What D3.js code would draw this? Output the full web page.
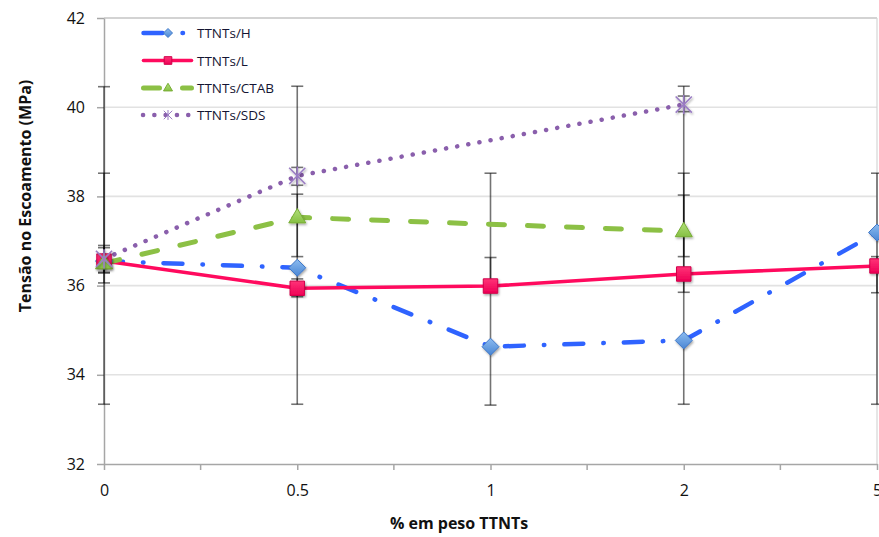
<!DOCTYPE html>
<html><head><meta charset="utf-8">
<script src="https://cdn.jsdelivr.net/npm/d3@7"></script>
<style>body{margin:0;background:#fff}svg{display:block}text{font-family:"Open Sans",sans-serif}</style>
</head><body><svg id="c" width="879" height="537"></svg>
<script>
// ---- data ----
const xCats = ["0", "0.5", "1", "2", "5"];
const yTicks = [32, 34, 36, 38, 40, 42];
const seriesNames = ["TTNTs/H", "TTNTs/L", "TTNTs/CTAB", "TTNTs/SDS"];
const H    = [36.55, 36.40, 34.63, 34.77, 37.19];
const L    = [36.55, 35.94, 35.99, 36.26, 36.44];
const CTAB = [36.50, 37.53, null, 37.22, null];
const SDS  = [36.60, 38.46, null, 40.06, null];
// error bar extents (low / high)
const H_lo    = [33.34, 33.34, 33.32, 33.34, 33.34];
const H_hi    = [38.52, 40.47, 38.52, 40.47, 38.52];
const L_lo    = [36.28, 35.75, 35.85, 35.85, 35.84];
const L_hi    = [36.85, 36.15, 36.63, 38.52, 36.65];
const CTAB_lo = [36.06, 36.65, null, 36.65, null];
const CTAB_hi = [36.90, 38.05, null, 38.03, null];
const SDS_lo  = [36.30, 38.25, null, 39.90, null];
const SDS_hi  = [40.46, 38.65, null, 40.25, null];
const xTitle = "% em peso TTNTs";
const yTitle = "Tensão no Escoamento (MPa)";

// ---- setup ----
const svg = d3.select("#c");
const x = d3.scalePoint().domain(xCats).range([104, 877]).padding(0);
const y = d3.scaleLinear().domain([32, 42]).range([464, 18]);

const defs = svg.append("defs");
const f = defs.append("filter").attr("id", "sh").attr("x", "-50%").attr("y", "-50%").attr("width", "200%").attr("height", "200%");
f.append("feDropShadow").attr("dx", 1).attr("dy", 1.5).attr("stdDeviation", 1.2).attr("flood-color", "#000").attr("flood-opacity", 0.35);
function grad(id, c1, c2) {
  const g = defs.append("linearGradient").attr("id", id).attr("x1", 0).attr("y1", 0).attr("x2", 0).attr("y2", 1);
  g.append("stop").attr("offset", "0%").attr("stop-color", c1);
  g.append("stop").attr("offset", "100%").attr("stop-color", c2);
}
grad("gH", "#8cbcf0", "#4a86d4");
grad("gL", "#ff3377", "#ee0055");
grad("gC", "#b2e07a", "#86c043");

const series = [
  { name: seriesNames[0], vals: H, lo: H_lo, hi: H_hi, color: "#2f63ff", width: 4.5, dash: "19,20,0.5,20", marker: "diamond", fill: "url(#gH)", stroke: "#3f78c8" },
  { name: seriesNames[1], vals: L, lo: L_lo, hi: L_hi, color: "#ff0a5e", width: 3.6, dash: null, marker: "square", fill: "url(#gL)", stroke: "#d0004a" },
  { name: seriesNames[2], vals: CTAB, lo: CTAB_lo, hi: CTAB_hi, color: "#8cc045", width: 5, dash: "16,23", marker: "triangle", fill: "url(#gC)", stroke: "#78ad35" },
  { name: seriesNames[3], vals: SDS, lo: SDS_lo, hi: SDS_hi, color: "#8a5fac", width: 4.5, dash: "0.1,11.2", marker: "star", fill: "none", stroke: "#9a7cc4" }
];

function markerPath(type, s) {
  if (type === "diamond") return `M0,${-s}L${s},0L0,${s}L${-s},0Z`;
  if (type === "square") { const h = s * 0.85; return `M${-h},${-h}H${h}V${h}H${-h}Z`; }
  if (type === "triangle") return `M0,${-s * 1.05}L${s},${s * 0.65}L${-s},${s * 0.65}Z`;
  const a = s * 0.85;
  return `M${-a},${-a}L${a},${a}M${-a},${a}L${a},${-a}M0,${-s}L0,${s}`;
}

// ---- gridlines ----
svg.append("g").selectAll("line").data(yTicks.filter(v => v > 32)).join("line")
  .attr("x1", x(xCats[0])).attr("x2", x(xCats[xCats.length - 1]))
  .attr("y1", d => y(d)).attr("y2", d => y(d))
  .attr("stroke", d => d === 42 ? "#c4c4c4" : "#e2e2e2").attr("stroke-width", 1.6);
svg.append("line").attr("x1", 877).attr("x2", 877).attr("y1", y(42)).attr("y2", y(32))
  .attr("stroke", "#d6d6d6").attr("stroke-width", 1.2);

// ---- axes ----
const yAxis = svg.append("g").attr("transform", `translate(${x(xCats[0])},0)`)
  .call(d3.axisLeft(y).tickValues(yTicks).tickSize(7).tickSizeOuter(0).tickPadding(12).tickFormat(d3.format("d")));
yAxis.select(".domain").attr("stroke", "#a6a6a6").attr("stroke-width", 1.5);
yAxis.selectAll(".tick line").attr("stroke", "#a6a6a6").attr("stroke-width", 1.5);
yAxis.selectAll(".tick text").attr("font-size", 16).attr("fill", "#111").attr("font-family", "Open Sans");

const xAxis = svg.append("g").attr("transform", `translate(0,${y(32)})`)
  .call(d3.axisBottom(x).tickSize(6).tickSizeOuter(0).tickPadding(15));
xAxis.select(".domain").attr("stroke", "#a6a6a6").attr("stroke-width", 1.5);
xAxis.selectAll(".tick line").attr("stroke", "#a6a6a6").attr("stroke-width", 1.5);
xAxis.selectAll(".tick text").attr("font-size", 16).attr("fill", "#111").attr("font-family", "Open Sans");
// minor ticks between categories
const mids = d3.pairs(xCats).map(([a, b]) => (x(a) + x(b)) / 2);
xAxis.append("g").selectAll("line").data(mids).join("line")
  .attr("x1", d => d).attr("x2", d => d).attr("y1", 0).attr("y2", 6)
  .attr("stroke", "#a6a6a6").attr("stroke-width", 1.5);

// titles
svg.append("text").attr("transform", "translate(25,196) rotate(-90)")
  .attr("text-anchor", "middle").attr("dominant-baseline", "central")
  .attr("font-size", 16).attr("font-weight", "bold").attr("fill", "#111").text(yTitle);
svg.append("text").attr("x", 459).attr("y", 523)
  .attr("text-anchor", "middle").attr("dominant-baseline", "central")
  .attr("font-size", 16).attr("font-weight", "bold").attr("fill", "#111").text(xTitle);

// ---- error bars ----
const eb = svg.append("g").attr("stroke", "#000").attr("stroke-opacity", 0.55).attr("stroke-width", 1.6);
series.forEach(s => {
  xCats.forEach((c, i) => {
    if (s.lo[i] == null) return;
    const cx = x(c);
    eb.append("line").attr("x1", cx).attr("x2", cx).attr("y1", y(s.lo[i])).attr("y2", y(s.hi[i]));
    [s.lo[i], s.hi[i]].forEach(v => {
      eb.append("line").attr("x1", cx - 6).attr("x2", cx + 6).attr("y1", y(v)).attr("y2", y(v));
    });
  });
});

// ---- lines ----
const line = d3.line().x(d => x(d.c)).y(d => y(d.v));
series.forEach(s => {
  const pts = xCats.map((c, i) => ({ c, v: s.vals[i] })).filter(d => d.v != null);
  svg.append("path").datum(pts).attr("d", line)
    .attr("fill", "none").attr("stroke", s.color).attr("stroke-width", s.width)
    .attr("stroke-linecap", "round").attr("stroke-linejoin", "round")
    .attr("stroke-dasharray", s.dash);
});

// ---- markers ----
series.forEach(s => {
  const pts = xCats.map((c, i) => ({ c, v: s.vals[i] })).filter(d => d.v != null);
  svg.append("g").selectAll("path").data(pts).join("path")
    .attr("transform", d => `translate(${x(d.c)},${y(d.v)})`)
    .attr("d", markerPath(s.marker, s.marker === "star" ? 9.5 : 8.5))
    .attr("fill", s.fill).attr("stroke", s.stroke)
    .attr("stroke-width", s.marker === "star" ? 1.6 : 1)
    .attr("filter", "url(#sh)");
});

// ---- legend ----
const legY = [33, 60.5, 88, 115];
const leg = svg.append("g");
series.forEach((s, i) => {
  const g = leg.append("g").attr("transform", `translate(0,${legY[i]})`);
  g.append("line").attr("x1", s.marker === "star" ? 143 : 143.5).attr("x2", 191.5).attr("y1", 0).attr("y2", 0)
    .attr("stroke", s.color).attr("stroke-width", s.width).attr("stroke-linecap", "round")
    .attr("stroke-dasharray", s.dash);
  g.append("path").attr("transform", "translate(168,0)")
    .attr("d", markerPath(s.marker, s.marker === "star" ? 5 : 4.5))
    .attr("fill", s.fill).attr("stroke", s.stroke).attr("stroke-width", 1);
  g.append("text").attr("x", 197).attr("y", 0).attr("dominant-baseline", "central")
    .attr("font-size", 13.5).attr("fill", "#141433").text(s.name);
});
</script></body></html>
